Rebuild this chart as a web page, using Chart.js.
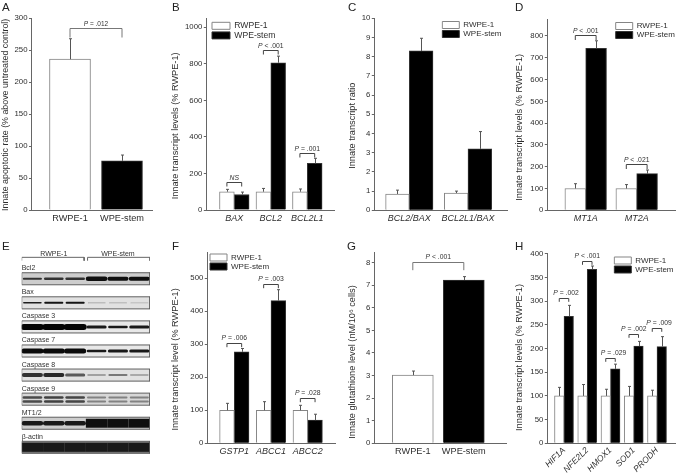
<!DOCTYPE html>
<html>
<head>
<meta charset="utf-8">
<style>
html,body{margin:0;padding:0;background:#fff;width:676px;height:473px;overflow:hidden}
canvas{position:absolute;left:0;top:0;filter:blur(0.3px)}
</style>
<script src="https://cdn.jsdelivr.net/npm/chart.js@4"></script>
</head>
<body>
<script>
const seriesNames = ['RWPE-1', 'WPE-stem'];

// Panel A
const aCategories = ['RWPE-1', 'WPE-stem'];
const aValues = [236, 77];
const aErrors = [32, 9];
const aTicksStep = 50;
const aBracketLevels = [285];
const aBracketLabels = ['P = .012'];

// Panel B
const bCategories = ['BAX', 'BCL2', 'BCL2L1'];
const bWhite = [100, 100, 100];
const bBlack = [85, 806, 255];
const bWhiteErr = [13, 18, 15];
const bBlackErr = [13, 36, 28];
const bBracketLevels = [155, 874, 314];
const bBracketLabels = ['NS', 'P < .001', 'P = .001'];

// Panel C
const cCategories = ['BCL2/BAX', 'BCL2L1/BAX'];
const cWhite = [0.85, 0.9];
const cBlack = [8.3, 3.2];
const cWhiteErr = [0.2, 0.1];
const cBlackErr = [0.66, 0.9];

// Panel D
const dCategories = ['MT1A', 'MT2A'];
const dWhite = [100, 100];
const dBlack = [743, 168];
const dWhiteErr = [22, 18];
const dBlackErr = [35, 17];
const dBracketLevels = [806, 212];
const dBracketLabels = ['P < .001', 'P < .021'];

// Panel F
const fCategories = ['GSTP1', 'ABCC1', 'ABCC2'];
const fWhite = [100, 100, 100];
const fBlack = [277, 432, 70];
const fWhiteErr = [21, 26, 15];
const fBlackErr = [10, 33, 18];
const fBracketLevels = [305, 482, 136];
const fBracketLabels = ['P = .006', 'P = .003', 'P = .028'];

// Panel G
const gCategories = ['RWPE-1', 'WPE-stem'];
const gValues = [3.02, 7.23];
const gErrors = [0.18, 0.15];
const gBracketLevels = [8.04];
const gBracketLabels = ['P < .001'];

// Panel H
const hCategories = ['HIF1A', 'NFE2L2', 'HMOX1', 'SOD1', 'PRODH'];
const hWhite = [100, 100, 100, 100, 100];
const hBlack = [268, 367, 157, 205, 204];
const hWhiteErr = [18, 24, 14, 20, 12];
const hBlackErr = [23, 7, 10, 10, 21];
const hBracketLevels = [307, 384, 181, 231, 244];
const hBracketLabels = ['P = .002', 'P < .001', 'P = .029', 'P = .002', 'P = .009'];

// Panel E (immunoblot): band darkness and thickness per lane
const eRows = ['Bcl2', 'Bax', 'Caspase 3', 'Caspase 7', 'Caspase 8', 'Caspase 9', 'MT1/2', '\u03B2-actin'];
const eGroups = ['RWPE-1', 'WPE-stem'];
const eStripShade = [205, 225, 232, 232, 225, 215, 205, 120];
const eDark = [
  [50, 50, 50, 15, 15, 15],
  [30, 20, 20, 170, 175, 185],
  [5, 5, 5, 25, 25, 25],
  [10, 10, 10, 25, 25, 25],
  [50, 40, 90, 140, 120, 150],
  [75, 65, 70, 130, 130, 130],
  [25, 25, 25, 15, 15, 15],
  [25, 25, 25, 25, 25, 25]
];
const eThick = [
  [2, 2.5, 2.5, 4.5, 4, 4],
  [1.5, 2, 2, 1, 1, 1],
  [6, 6, 6, 3, 2.5, 3],
  [5, 5, 5, 2.5, 3, 3],
  [4, 4, 3, 1.5, 2, 1.5],
  [2.5, 2.5, 2.5, 2, 2, 2],
  [4.5, 4.5, 4.5, 9, 9, 9],
  [9, 9, 9, 9, 9, 9]
];
const eBandsInRow = [1, 1, 1, 1, 1, 2, 1, 1];

const TEXT = '#2e2e2e', AXIS = '#666', EDGE = '#858585', FONT = '"Liberation Sans", Arial, sans-serif';

function addCanvas() {
  const c = document.createElement('canvas');
  c.width = 676; c.height = 473;
  c.style.width = '676px'; c.style.height = '473px';
  document.body.appendChild(c);
  return c;
}

function drawP(ctx, label, cx, cy, size) {
  ctx.save();
  ctx.textBaseline = 'middle';
  ctx.fillStyle = '#333';
  const italicFont = 'italic ' + size + 'px ' + FONT, plainFont = size + 'px ' + FONT;
  if (label[0] !== 'P') {
    ctx.textAlign = 'center';
    ctx.font = italicFont;
    ctx.fillText(label, cx, cy);
  } else {
    const rest = label.slice(1);
    ctx.textAlign = 'left';
    ctx.font = italicFont;
    const w0 = ctx.measureText('P').width;
    ctx.font = plainFont;
    const w1 = ctx.measureText(rest).width;
    const start = cx - (w0 + w1) / 2;
    ctx.font = italicFont;
    ctx.fillText('P', start, cy);
    ctx.font = plainFont;
    ctx.fillText(rest, start + w0, cy);
  }
  ctx.restore();
}

function barPanel(p) {
  const lh = p.titleFont;
  const left = p.titleX - lh / 2;
  const xh = 473 - p.y0;
  const stem = p.datasets.length === 1;
  const datasets = p.datasets.map((d, k) => ({
    label: stem ? 'values' : seriesNames[k],
    data: d.values.map((v, i) => ({ x: i + 1, y: v })),
    backgroundColor: stem ? ['#fff', '#000'] : (k ? '#000' : '#fff'),
    borderColor: stem ? [EDGE, '#333'] : (k ? '#333' : EDGE),
    borderWidth: 1,
    barThickness: p.barW,
    errors: d.errors
  }));
  const plugin = {
    id: 'marks',
    afterLayout(chart) {
      if (!p.legend) return;
      const lg = chart.legend, pad = 1;
      lg.left = p.legend.x - pad;
      lg.top = p.legend.y - pad;
      lg.right = lg.left + 70;
      lg.bottom = lg.top + 40;
      lg.width = 70; lg.height = 40;
    },
    afterDatasetsDraw(chart) {
      const ctx = chart.ctx, y = chart.scales.y;
      ctx.save();
      ctx.strokeStyle = '#555';
      ctx.lineWidth = 1;
      datasets.forEach((d, k) => {
        chart.getDatasetMeta(k).data.forEach((el, i) => {
          const x = Math.round(el.x) + 0.5;
          const t = y.getPixelForValue(d.data[i].y + d.errors[i]);
          ctx.beginPath();
          ctx.moveTo(x, el.y); ctx.lineTo(x, t);
          ctx.moveTo(x - 1.5, t); ctx.lineTo(x + 1.5, t);
          ctx.stroke();
        });
      });
      (p.brackets || []).forEach((lvl, i) => {
        const m0 = chart.getDatasetMeta(0).data;
        const xa = m0[i].x;
        const xb = stem ? m0[i + 1].x : chart.getDatasetMeta(1).data[i].x;
        const py = Math.round(y.getPixelForValue(lvl)) + 0.5;
        ctx.strokeStyle = stem ? '#777' : '#444';
        ctx.beginPath();
        ctx.moveTo(xa, py + p.drop); ctx.lineTo(xa, py); ctx.lineTo(xb, py); ctx.lineTo(xb, py + p.drop);
        ctx.stroke();
        const shift = p.textShift ? p.textShift[i] : 0;
        drawP(ctx, p.bracketLabels[i], (xa + xb) / 2 + shift, py - p.textGap, p.pFont || 6.8);
      });
      ctx.restore();
    },
    afterDraw(chart) {
      const ctx = chart.ctx;
      ctx.save();
      ctx.fillStyle = '#222';
      ctx.font = '11.5px ' + FONT;
      ctx.textAlign = 'left'; ctx.textBaseline = 'alphabetic';
      ctx.fillText(p.letter, p.letterX, p.letterY);
      ctx.restore();
    }
  };
  const cats = p.categories;
  new Chart(addCanvas(), {
    type: 'bar',
    data: { datasets },
    plugins: [plugin],
    options: {
      responsive: false, animation: false, devicePixelRatio: 1,
      layout: { autoPadding: false, padding: { left, right: 676 - p.x1, top: p.yTop, bottom: 0 } },
      plugins: {
        tooltip: { enabled: false },
        legend: p.legend ? {
          display: true, position: 'chartArea', align: 'start',
          labels: { boxWidth: p.legend.box || 17, boxHeight: 7, padding: 1, color: TEXT,
            font: { family: FONT, size: p.legend.font || 8 }, lineHeight: 1.2 }
        } : { display: false }
      },
      scales: {
        x: {
          type: 'linear', offset: false,
          min: 1 + (p.x0 - p.cx) / p.dx,
          max: 1 + (p.x1 - p.cx) / p.dx,
          afterBuildTicks(s) { s.ticks = cats.map((c, i) => ({ value: i + 1 })); },
          afterFit(s) { s.height = xh; },
          grid: { display: false, drawTicks: false, offset: false },
          border: { color: AXIS, width: 1 },
          ticks: {
            autoSkip: false, includeBounds: false,
            minRotation: p.rot || 0, maxRotation: p.rot || 0,
            padding: p.xPad === undefined ? 3 : p.xPad, color: TEXT,
            font: { family: FONT, size: p.xFont || 9, style: p.italic ? 'italic' : 'normal' },
            callback: v => cats[v - 1]
          }
        },
        y: {
          min: 0, max: p.yMax,
          afterFit(s) {
            s.width = p.x0 - left;
            const dy = p.titleY - (p.yTop + p.y0) / 2;
            const orig = s.drawTitle;
            s.drawTitle = function () {
              const t = this.top, b = this.bottom;
              this.top += dy; this.bottom += dy;
              orig.call(this);
              this.top = t; this.bottom = b;
            };
          },
          grid: { drawOnChartArea: false, drawTicks: true, tickLength: 2.5, color: AXIS },
          border: { color: AXIS, width: 1 },
          ticks: { stepSize: p.step, autoSkip: false, includeBounds: false, padding: 1.5, color: TEXT,
            font: { family: FONT, size: 7.8 }, callback: v => String(v) },
          title: { display: true, text: p.title, color: TEXT, padding: 0,
            font: { family: FONT, size: p.titleFont, lineHeight: 1 } }
        }
      }
    }
  });
}

barPanel({ letter: 'A', letterX: 2, letterY: 11, x0: 31.5, x1: 152, y0: 210, yTop: 18.3, yMax: 300, step: aTicksStep,
  cx: 70, dx: 52, barW: 41, title: 'Innate apoptotic rate (% above untreated control)', titleX: 5.5, titleY: 114.5, titleFont: 8.85,
  categories: aCategories, datasets: [{ values: aValues, errors: aErrors }],
  brackets: aBracketLevels, bracketLabels: aBracketLabels, drop: 9, textGap: 4.5, pFont: 6.5, xFont: 9.2 });

barPanel({ letter: 'B', letterX: 172, letterY: 11, x0: 206.3, x1: 334, y0: 210, yTop: 18.3, yMax: 1049, step: 200,
  cx: 234.3, dx: 36.5, barW: 14.8, title: 'Innate transcript levels (% RWPE-1)', titleX: 175, titleY: 120, titleFont: 9.2,
  categories: bCategories, italic: true, xFont: 9,
  datasets: [{ values: bWhite, errors: bWhiteErr }, { values: bBlack, errors: bBlackErr }],
  brackets: bBracketLevels, bracketLabels: bBracketLabels, drop: 4, textGap: 4,
  legend: { x: 212, y: 21.5, box: 18, font: 8.6 } });

barPanel({ letter: 'C', letterX: 348, letterY: 11, x0: 374.3, x1: 507, y0: 210.3, yTop: 18.3, yMax: 10, step: 1,
  cx: 409.3, dx: 58.7, barW: 23.7, title: 'Innate transcript ratio', titleX: 352, titleY: 120, titleFont: 9.2,
  categories: cCategories, italic: true, xFont: 9,
  datasets: [{ values: cWhite, errors: cWhiteErr }, { values: cBlack, errors: cBlackErr }],
  legend: { x: 442.3, y: 21 } });

barPanel({ letter: 'D', letterX: 515, letterY: 11, x0: 547.3, x1: 675, y0: 210.3, yTop: 19, yMax: 878, step: 100,
  cx: 585.7, dx: 51, barW: 20.8, title: 'Innate transcript levels (% RWPE-1)', titleX: 519, titleY: 121, titleFont: 9.2,
  categories: dCategories, italic: true, xFont: 9,
  datasets: [{ values: dWhite, errors: dWhiteErr }, { values: dBlack, errors: dBlackErr }],
  brackets: dBracketLevels, bracketLabels: dBracketLabels, drop: 4.5, textGap: 4.7,
  legend: { x: 615.7, y: 22 } });

barPanel({ letter: 'F', letterX: 172, letterY: 250, x0: 207.3, x1: 335, y0: 443.3, yTop: 252.7, yMax: 577, step: 100,
  cx: 234.3, dx: 36.7, barW: 14.7, title: 'Innate transcript level (% RWPE-1)', titleX: 175, titleY: 353.7, titleFont: 9.2,
  categories: fCategories, italic: true, xFont: 9,
  datasets: [{ values: fWhite, errors: fWhiteErr }, { values: fBlack, errors: fBlackErr }],
  brackets: fBracketLevels, bracketLabels: fBracketLabels, drop: 3.7, textGap: 5,
  legend: { x: 210, y: 253.5 } });

barPanel({ letter: 'G', letterX: 347, letterY: 250, x0: 374.3, x1: 506.7, y0: 443.3, yTop: 252.7, yMax: 8.44, step: 1,
  cx: 412.8, dx: 51, barW: 41, title: 'Innate glutathione level (nM/10\u2076 cells)', titleX: 352.3, titleY: 355, titleFont: 9.2,
  categories: gCategories, xFont: 9.2, datasets: [{ values: gValues, errors: gErrors }],
  brackets: gBracketLevels, bracketLabels: gBracketLabels, drop: 7.7, textGap: 5 });

barPanel({ letter: 'H', letterX: 515, letterY: 250, x0: 547.3, x1: 675, y0: 443.3, yTop: 253.7, yMax: 400, step: 50,
  cx: 564, dx: 23.25, barW: 9.5, title: 'Innate transcript levels (% RWPE-1)', titleX: 519.3, titleY: 353, titleFont: 9.2,
  categories: hCategories, italic: true, xFont: 8.6, rot: 45, xPad: 2,
  datasets: [{ values: hWhite, errors: hWhiteErr }, { values: hBlack, errors: hBlackErr }],
  brackets: hBracketLevels, bracketLabels: hBracketLabels, drop: 3.3, textGap: 5.3, textShift: [2, 0, 3, 0, 2],
  legend: { x: 614.3, y: 256.5 } });

// Panel E: immunoblot drawn as thick line datasets on two linear scales
(function () {
  const lanes = 6;
  const seg = (x1, x2, y, color, width, cap) => ({
    data: [{ x: x1, y }, { x: x2, y }], borderColor: color, borderWidth: width,
    showLine: true, pointRadius: 0, tension: 0, borderCapStyle: cap || 'butt', fill: false
  });
  const poly = (pts, color, width) => ({
    data: pts.map(a => ({ x: a[0], y: a[1] })), borderColor: color, borderWidth: width,
    showLine: true, pointRadius: 0, tension: 0, borderCapStyle: 'butt', fill: false
  });
  const grey = g => 'rgb(' + g + ',' + g + ',' + g + ')';
  const ds = [];
  eRows.forEach((name, r) => {
    ds.push(seg(0, lanes, r, grey(eStripShade[r]), 11.4));
    eDark[r].forEach((g, lane) => {
      const n = eBandsInRow[r];
      const full = (r === 6 && lane > 2) || r === 7;
      const half = full ? 0.5 : 0.4;
      for (let b = 0; b < n; b++) {
        const yy = r + (n > 1 ? (b ? 0.1 : -0.07) : 0);
        ds.push(seg(lane + 0.5 - half, lane + 0.5 + half, yy, grey(g), eThick[r][lane], full ? 'butt' : 'round'));
      }
    });
    const h = 0.25;
    ds.push(poly([[0, r - h], [lanes, r - h], [lanes, r + h], [0, r + h], [0, r - h]], '#5a5a5a', 1));
  });
  ds.push(poly([[0, -0.75], [0, -0.89], [2.92, -0.89], [2.92, -0.75]], '#666', 1));
  ds.push(poly([[3.08, -0.75], [3.08, -0.89], [6, -0.89], [6, -0.75]], '#666', 1));
  ds.reverse();
  const labels = {
    id: 'blotText',
    beforeDatasetsDraw(c) { c.ctx.save(); c.ctx.filter = 'blur(0.7px)'; },
    afterDatasetsDraw(c) {
      c.ctx.restore();
      const ctx = c.ctx, x = c.scales.x, y = c.scales.y;
      ctx.save();
      ctx.fillStyle = '#333';
      ctx.font = '7px ' + FONT;
      ctx.textBaseline = 'middle';
      ctx.textAlign = 'left';
      eRows.forEach((n, r) => ctx.fillText(n, x.getPixelForValue(0), y.getPixelForValue(r) - 10.5));
      ctx.textAlign = 'center';
      ctx.fillText(eGroups[0], x.getPixelForValue(1.5), y.getPixelForValue(-1) - 1);
      ctx.fillText(eGroups[1], x.getPixelForValue(4.5), y.getPixelForValue(-1) - 1);
      ctx.fillStyle = '#222';
      ctx.textAlign = 'left'; ctx.textBaseline = 'alphabetic';
      ctx.font = '11.5px ' + FONT;
      ctx.fillText('E', 2, 250);
      ctx.restore();
    }
  };
  new Chart(addCanvas(), {
    type: 'scatter',
    data: { datasets: ds },
    plugins: [labels],
    options: {
      responsive: false, animation: false, devicePixelRatio: 1,
      layout: { autoPadding: false, padding: { left: 21.7, right: 676 - 150, top: 230.6, bottom: 473 - 471.4 } },
      plugins: { legend: { display: false }, tooltip: { enabled: false } },
      scales: {
        x: { type: 'linear', display: false, min: 0, max: lanes },
        y: { type: 'linear', display: false, reverse: true, min: -2, max: 8 }
      }
    }
  });
})();
</script>
</body>
</html>
